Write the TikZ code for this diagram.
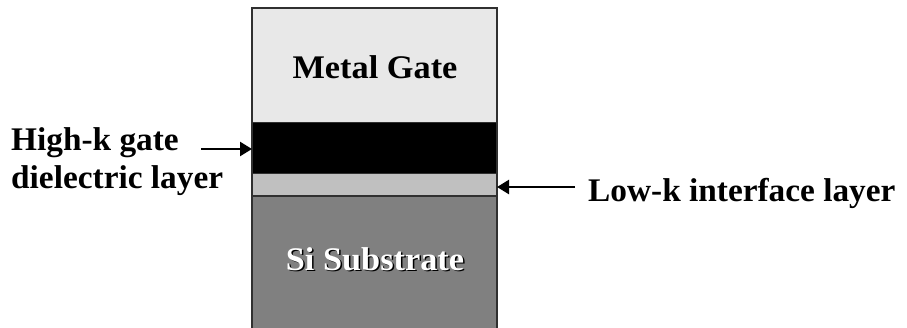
\documentclass[tikz,border=0pt]{standalone}
\usepackage{fontspec}
\setmainfont{Liberation Serif}
\newfontfamily\labfont{Liberation Serif}[FakeStretch=1.01]
\newfontfamily\boxfont{Liberation Serif}[FakeStretch=1.04]
\usetikzlibrary{arrows.meta}
\definecolor{gatecol}{HTML}{E8E8E8}
\definecolor{lowkcol}{HTML}{C0C0C0}
\definecolor{subcol}{HTML}{808080}
\definecolor{edgecol}{HTML}{303030}
\begin{document}
\begin{tikzpicture}[x=1pt,y=-1pt,
  layer/.style={draw=edgecol,line width=1.3pt,anchor=north west,minimum width=245pt,inner sep=0pt,outer sep=0pt},
  lab/.style={font=\labfont\bfseries\fontsize{33}{38}\selectfont,inner sep=0pt,anchor=base west,align=left},
  boxtxt/.style={font=\boxfont\bfseries\fontsize{33}{33}\selectfont,inner sep=0pt},
  arr/.style={line width=2.4pt,-{Triangle[length=12pt,width=14pt]}}]
\useasboundingbox[fill=white] (0,0) rectangle (907,327);
\node[layer,fill=subcol,minimum height=134pt] (sub) at (252,196) {};
\node[layer,fill=gatecol,minimum height=114.5pt] (gate) at (252,8) {};
\node[layer,fill=black,minimum height=51pt] (highk) at (252,122.5) {};
\node[layer,fill=lowkcol,minimum height=22.5pt] (lowk) at (252,173.5) {};
\node[boxtxt] (gatetxt) at (375,67) {Metal Gate};
\node[boxtxt,text=black] (subshadow) at (376.5,260.5) {Si Substrate};
\node[boxtxt,text=white] (subtxt) at (375,259) {Si Substrate};
\node[lab] (hk1) at (11,150) {High-k gate};
\node[lab] (hk2) at (11,188) {dielectric layer};
\node[lab] (lk) at (588,201) {Low-k interface layer};
\coordinate (hktail) at (201,149);
\coordinate (lktail) at (575,187);
\draw[arr] (hktail) -- (hktail -| highk.west);
\draw[arr] (lktail) -- (lktail -| lowk.east);
\end{tikzpicture}
\end{document}
